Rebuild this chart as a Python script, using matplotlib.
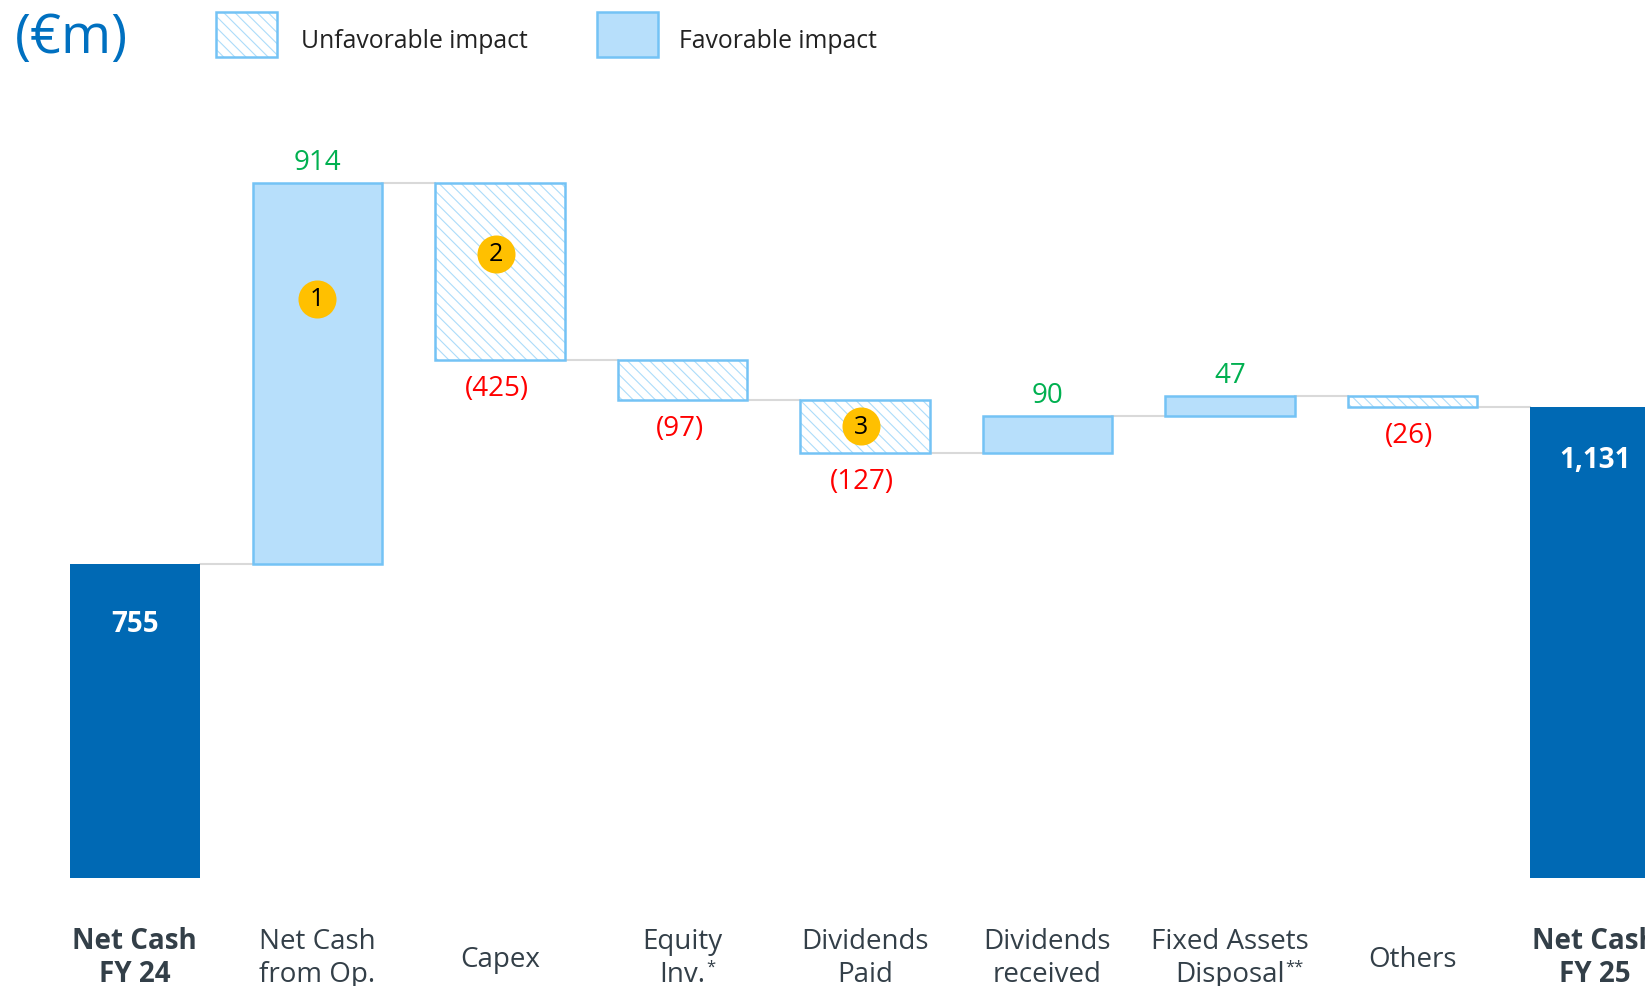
import numpy as np
import matplotlib.pyplot as plt

plt.rcParams['font.family'] = ['Open Sans', 'DejaVu Sans']

# data
categories = ["Net Cash\nFY 24", "Net Cash\nfrom Op.", "Capex", "Equity\nInv.",
              "Dividends\nPaid", "Dividends\nreceived", "Fixed Assets\nDisposal",
              "Others", "Net Cash\nFY 25"]
footnotes = ["", "", "", "*", "", "", "**", "", ""]
steps = [755, 914, -425, -97, -127, 90, 47, -26]
value_labels = ["755", "914", "(425)", "(97)", "(127)", "90", "47", "(26)", "1,131"]
# numbered call-outs: (category index, value level, number)
callout_cat = [1, 2, 4]
callout_val = [1390, 1498, 1085]
callout_txt = ["1", "2", "3"]

total_color = "#0069B4"
fav_face = "#B7DFFB"
edge_blue = "#74C3F5"
hatch_blue = "#ACDCFA"
green = "#00B050"
red = "#FF0000"
label_color = "#333F48"

n = len(categories)
x = np.arange(n)
levels = np.cumsum(steps)
final = levels[-1]
w = 0.71

fig = plt.figure(figsize=(16.45, 9.87), dpi=100)
ax = fig.add_axes([0, 0, 1, 1])
ax.set_xlim(-0.739, 8.275)
ax.set_ylim(-259, 2110)
ax.axis("off")

# totals
ax.bar([0, n - 1], [steps[0], final], width=w, color=total_color, zorder=3)

# movement bars
plt.rcParams['hatch.linewidth'] = 0.8
for i in range(1, n - 1):
    v = steps[i]
    start = levels[i - 1]
    bottom = min(start, start + v)
    h = abs(v)
    if v >= 0:
        ax.bar(x[i], h, bottom=bottom, width=w, color=fav_face,
               edgecolor=edge_blue, linewidth=1.8, zorder=3)
    else:
        ax.bar(x[i], h, bottom=bottom, width=w, color="white",
               edgecolor=hatch_blue, hatch="\\\\\\", linewidth=0, zorder=3)
        ax.bar(x[i], h, bottom=bottom, width=w, fill=False,
               edgecolor=edge_blue, linewidth=1.8, zorder=4)

# connectors
for i in range(n - 1):
    ax.plot([x[i] + w / 2, x[i + 1] - w / 2], [levels[i], levels[i]],
            color="#D9D9D9", lw=1.5, zorder=2)

# value labels
ax.annotate(value_labels[0], (x[0], steps[0]), xytext=(0, -43), textcoords="offset points",
            ha="center", va="center", color="white", fontsize=20, fontweight="bold", zorder=5)
ax.annotate(value_labels[-1], (x[-1], final), xytext=(0, -38), textcoords="offset points",
            ha="center", va="center", color="white", fontsize=20, fontweight="bold", zorder=5)
for i in range(1, n - 1):
    v = steps[i]
    if v >= 0:
        ax.annotate(value_labels[i], (x[i], levels[i]), xytext=(0, 15),
                    textcoords="offset points", ha="center", va="center",
                    color=green, fontsize=20)
    else:
        ax.annotate(value_labels[i], (x[i], levels[i]), xytext=(-2, -20),
                    textcoords="offset points", ha="center", va="center",
                    color=red, fontsize=20)

# call-outs
for c, v, t in zip(callout_cat, callout_val, callout_txt):
    cx = x[c] - (0.02 if c != 1 else 0)
    ax.scatter(cx, v, s=750, color="#FFC000", linewidths=0, zorder=6)
    ax.text(cx, v, t, ha="center", va="center", fontsize=18, color="black", zorder=7)

# category labels, line by line so footnote marks can sit after the last line
for i, lab in enumerate(categories):
    weight = "bold" if i in (0, n - 1) else "normal"
    lines = lab.split("\n")
    ys = [-193] if len(lines) == 1 else [-150, -230]
    last = None
    for ln, yy in zip(lines, ys):
        last = ax.text(x[i], yy, ln, ha="center", va="center", fontsize=20,
                       color=label_color, fontweight=weight)
    if footnotes[i]:
        ax.annotate(footnotes[i], xy=(1, 1), xycoords=last, xytext=(0.5, 1),
                    textcoords="offset points", ha="left", va="top",
                    fontsize=12, color=label_color)

# header: unit and legend
fig.text(0.009, 1 - 38 / 987, "(€m)", fontsize=39, color="#0070C0", va="center", ha="left")
pw, ph = 61 / 1645, 45 / 987
py = 1 - 58 / 987
r1 = plt.Rectangle((216 / 1645, py), pw, ph, transform=fig.transFigure, facecolor="white",
                   edgecolor=hatch_blue, hatch="\\\\\\", linewidth=0)
r1b = plt.Rectangle((216 / 1645, py), pw, ph, transform=fig.transFigure, fill=False,
                    edgecolor=edge_blue, linewidth=1.8)
r2 = plt.Rectangle((597 / 1645, py), pw, ph, transform=fig.transFigure, facecolor=fav_face,
                   edgecolor=edge_blue, linewidth=1.8)
for r in (r1, r1b, r2):
    fig.patches.append(r)
fig.text(301 / 1645, 1 - 42 / 987, "Unfavorable impact", fontsize=17.8, color="#222222",
         va="center", ha="left")
fig.text(679 / 1645, 1 - 42 / 987, "Favorable impact", fontsize=17.8, color="#222222",
         va="center", ha="left")

fig.savefig("out.png", dpi=100)
